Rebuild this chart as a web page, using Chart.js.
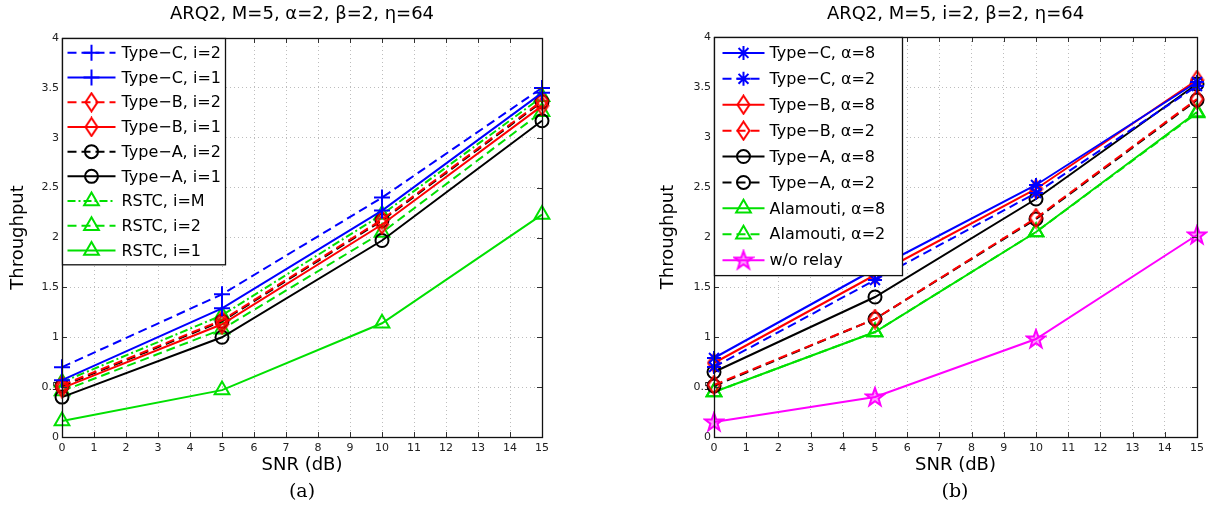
<!DOCTYPE html>
<html lang="en">
<head>
<meta charset="UTF-8">
<title>Throughput vs SNR</title>
<script src="https://cdn.jsdelivr.net/npm/chart.js"></script>
<style>
  body { margin: 0; background: #fff; width: 1213px; height: 526px; overflow: hidden; position: relative; }
  .panel { position: absolute; top: 0; }
  #panelA { left: 0; }
  #panelB { left: 606px; }
  .caption { position: absolute; top: 479px; font-family: "DejaVu Serif", serif; font-size: 19px; transform: translateX(-50%); color: #000; }
</style>
</head>
<body>
<div class="panel" id="panelA"><canvas id="chartA" width="606" height="526"></canvas></div>
<div class="panel" id="panelB"><canvas id="chartB" width="607" height="526"></canvas></div>
<div class="caption" style="left:302px">(a)</div>
<div class="caption" style="left:955px">(b)</div>
<script>
// shared axes
const snrDb = [0, 5, 10, 15];
const xTicks = [0, 1, 2, 3, 4, 5, 6, 7, 8, 9, 10, 11, 12, 13, 14, 15];
const yTicks = [0, 0.5, 1, 1.5, 2, 2.5, 3, 3.5, 4];

// (a) alpha = 2, varying i
const titleA = 'ARQ2, M=5, α=2, β=2, η=64';
const typeC_i2 = [0.70, 1.43, 2.40, 3.50];
const typeC_i1 = [0.57, 1.29, 2.27, 3.45];
const typeB_i2 = [0.52, 1.17, 2.18, 3.37];
const typeB_i1 = [0.49, 1.13, 2.13, 3.32];
const typeA_i2 = [0.51, 1.16, 2.17, 3.36];
const typeA_i1 = [0.40, 1.00, 1.97, 3.17];
const rstc_iM = [0.55, 1.22, 2.23, 3.41];
const rstc_i2 = [0.46, 1.08, 2.05, 3.26];
const rstc_i1 = [0.16, 0.47, 1.14, 2.23];

// (b) i = 2, varying alpha
const titleB = 'ARQ2, M=5, i=2, β=2, η=64';
const typeC_a8 = [0.79, 1.68, 2.52, 3.55];
const typeC_a2 = [0.70, 1.57, 2.44, 3.51];
const typeB_a8 = [0.74, 1.62, 2.48, 3.57];
const typeB_a2 = [0.52, 1.18, 2.19, 3.38];
const typeA_a8 = [0.65, 1.40, 2.38, 3.53];
const typeA_a2 = [0.51, 1.18, 2.18, 3.37];
const alam_a8 = [0.45, 1.05, 2.05, 3.25];
const alam_a2 = [0.45, 1.05, 2.05, 3.24];
const noRelay = [0.15, 0.40, 0.98, 2.02];

const FONT = '"DejaVu Sans", sans-serif';
const BLUE = '#0000ff', RED = '#ff0000', BLACK = '#000000', GREEN = '#00e000', MAGENTA = '#ff00ff';
const DASH = [9, 5], DASHDOT = [8, 3, 2, 3];

// custom marker images: tall diamond and five-point star
function markerCanvas(w, h, draw) {
  const c = document.createElement('canvas');
  c.width = w; c.height = h;
  draw(c.getContext('2d'));
  return c;
}
const diamond = markerCanvas(15, 21, g => {
  g.strokeStyle = RED; g.lineWidth = 2;
  g.beginPath();
  g.moveTo(7.5, 1.5); g.lineTo(13.5, 10.5); g.lineTo(7.5, 19.5); g.lineTo(1.5, 10.5);
  g.closePath(); g.stroke();
});
const pentagram = markerCanvas(22, 22, g => {
  g.strokeStyle = MAGENTA; g.fillStyle = 'rgba(255,0,255,0.4)'; g.lineWidth = 2;
  g.beginPath();
  for (let k = 0; k < 10; k++) {
    const r = k % 2 ? 3.8 : 9.5;
    const a = -Math.PI / 2 + k * Math.PI / 5;
    const px = 11 + r * Math.cos(a), py = 11.5 + r * Math.sin(a);
    k ? g.lineTo(px, py) : g.moveTo(px, py);
  }
  g.closePath(); g.fill(); g.stroke();
});

function series(label, values, color, dash, style, radius) {
  return {
    label: label,
    data: snrDb.map((x, i) => ({ x: x, y: values[i] })),
    borderColor: color,
    backgroundColor: 'rgba(0,0,0,0)',
    borderWidth: 2,
    borderDash: dash,
    pointStyle: style,
    pointRadius: radius,
    pointHoverRadius: radius,
    pointBorderWidth: 2,
    pointBorderColor: color,
    pointBackgroundColor: 'rgba(0,0,0,0)',
    tension: 0,
    fill: false,
    clip: false
  };
}

// title centred over the plot box
const plotTitle = {
  id: 'plotTitle',
  afterDraw(chart, args, opts) {
    const { ctx, chartArea } = chart;
    ctx.save();
    ctx.font = '18px ' + FONT;
    ctx.fillStyle = '#000';
    ctx.textAlign = 'center';
    ctx.textBaseline = 'middle';
    ctx.fillText(opts.text, (chartArea.left + chartArea.right) / 2, 14);
    ctx.restore();
  }
};

// box around the axes with inward ticks on all four sides
const frame = {
  id: 'frame',
  afterDatasetsDraw(chart) {
    const { ctx, chartArea: a, scales } = chart;
    ctx.save();
    ctx.setLineDash([]);
    ctx.strokeStyle = '#333';
    ctx.lineWidth = 1;
    ctx.beginPath();
    xTicks.forEach(v => {
      const px = Math.round(scales.x.getPixelForValue(v)) + 0.5;
      ctx.moveTo(px, a.bottom); ctx.lineTo(px, a.bottom - 5);
      ctx.moveTo(px, a.top); ctx.lineTo(px, a.top + 5);
    });
    yTicks.forEach(v => {
      const py = Math.round(scales.y.getPixelForValue(v)) + 0.5;
      ctx.moveTo(a.left, py); ctx.lineTo(a.left + 5, py);
      ctx.moveTo(a.right, py); ctx.lineTo(a.right - 5, py);
    });
    ctx.stroke();
    ctx.strokeStyle = '#111';
    ctx.lineWidth = 1.3;
    ctx.strokeRect(Math.round(a.left) + 0.5, Math.round(a.top) + 0.5,
      Math.round(a.right - a.left), Math.round(a.bottom - a.top));
    ctx.restore();
  }
};

// boxed legend in the top-left corner of the plot
const boxLegend = {
  id: 'boxLegend',
  afterDraw(chart, args, o) {
    const { ctx, chartArea } = chart;
    const sets = chart.data.datasets;
    const x0 = Math.round(chartArea.left) + 0.5, y0 = Math.round(chartArea.top) + 0.5;
    const h = o.padTop * 2 + o.rowHeight * sets.length;
    ctx.save();
    ctx.fillStyle = '#fff';
    ctx.fillRect(x0, y0, o.width, h);
    ctx.strokeStyle = '#111';
    ctx.lineWidth = 1.3;
    ctx.strokeRect(x0, y0, o.width, h);
    sets.forEach((ds, i) => {
      const cy = y0 + o.padTop + o.rowHeight * (i + 0.5);
      ctx.strokeStyle = ds.borderColor;
      ctx.lineWidth = ds.borderWidth;
      ctx.setLineDash(ds.borderDash || []);
      ctx.beginPath();
      ctx.moveTo(x0 + o.lineStart, cy);
      ctx.lineTo(x0 + o.lineEnd, cy);
      ctx.stroke();
      ctx.setLineDash([]);
      ctx.fillStyle = 'rgba(0,0,0,0)';
      Chart.helpers.drawPoint(ctx, {
        pointStyle: ds.pointStyle, radius: ds.pointRadius, rotation: 0, borderWidth: 2
      }, x0 + (o.lineStart + o.lineEnd) / 2, cy);
      ctx.fillStyle = '#000';
      ctx.font = '16px ' + FONT;
      ctx.textAlign = 'left';
      ctx.textBaseline = 'middle';
      ctx.fillText(ds.label, x0 + o.textX, cy + 1);
    });
    ctx.restore();
  }
};

function makeChart(id, title, datasets, pad, yWidth, legend) {
  return new Chart(document.getElementById(id), {
    type: 'line',
    data: { datasets: datasets },
    plugins: [plotTitle, frame, boxLegend],
    options: {
      responsive: false,
      animation: false,
      events: [],
      layout: { padding: pad },
      plugins: {
        legend: { display: false },
        tooltip: { enabled: false },
        plotTitle: { text: title },
        boxLegend: legend
      },
      scales: {
        x: {
          type: 'linear', min: 0, max: 15,
          afterBuildTicks: s => { s.ticks = xTicks.map(v => ({ value: v })); },
          afterFit: s => { s.height = 39; },
          ticks: { padding: 5, color: '#222', font: { family: FONT, size: 11 }, maxRotation: 0, callback: v => String(v) },
          grid: { color: '#bdbdbd', lineWidth: 1, drawTicks: false },
          border: { display: false, dash: [1, 3] },
          title: { display: true, text: 'SNR (dB)', color: '#000', font: { family: FONT, size: 18 }, padding: { top: 0, bottom: 0 } }
        },
        y: {
          type: 'linear', min: 0, max: 4,
          afterBuildTicks: s => { s.ticks = yTicks.map(v => ({ value: v })); },
          afterFit: s => { s.width = yWidth; },
          ticks: { padding: 3, color: '#222', font: { family: FONT, size: 11 }, callback: v => String(v) },
          grid: { color: '#bdbdbd', lineWidth: 1, drawTicks: false },
          border: { display: false, dash: [1, 3] },
          title: { display: true, text: 'Throughput', color: '#000', font: { family: FONT, size: 18 }, padding: { top: 8, bottom: 0 } }
        }
      }
    }
  });
}

makeChart('chartA', titleA, [
  series('Type−C, i=2', typeC_i2, BLUE, DASH, 'cross', 8),
  series('Type−C, i=1', typeC_i1, BLUE, [], 'cross', 8),
  series('Type−B, i=2', typeB_i2, RED, DASH, diamond, 8),
  series('Type−B, i=1', typeB_i1, RED, [], diamond, 8),
  series('Type−A, i=2', typeA_i2, BLACK, DASH, 'circle', 6.5),
  series('Type−A, i=1', typeA_i1, BLACK, [], 'circle', 6.5),
  series('RSTC, i=M', rstc_iM, GREEN, DASHDOT, 'triangle', 8.5),
  series('RSTC, i=2', rstc_i2, GREEN, DASH, 'triangle', 8.5),
  series('RSTC, i=1', rstc_i1, GREEN, [], 'triangle', 8.5)
], { left: 0, top: 38, right: 64, bottom: 50 }, 62,
  { width: 163, rowHeight: 24.7, padTop: 2, lineStart: 5, lineEnd: 53, textX: 59 });

makeChart('chartB', titleB, [
  series('Type−C, α=8', typeC_a8, BLUE, [], 'star', 7),
  series('Type−C, α=2', typeC_a2, BLUE, DASH, 'star', 7),
  series('Type−B, α=8', typeB_a8, RED, [], diamond, 8),
  series('Type−B, α=2', typeB_a2, RED, DASH, diamond, 8),
  series('Type−A, α=8', typeA_a8, BLACK, [], 'circle', 6.5),
  series('Type−A, α=2', typeA_a2, BLACK, DASH, 'circle', 6.5),
  series('Alamouti, α=8', alam_a8, GREEN, [], 'triangle', 8.5),
  series('Alamouti, α=2', alam_a2, GREEN, DASH, 'triangle', 8.5),
  series('w/o relay', noRelay, MAGENTA, [], pentagram, 9)
], { left: 44, top: 37, right: 16, bottom: 50 }, 64,
  { width: 188, rowHeight: 25.9, padTop: 2.5, lineStart: 8, lineEnd: 50, textX: 55 });
</script>
</body>
</html>
